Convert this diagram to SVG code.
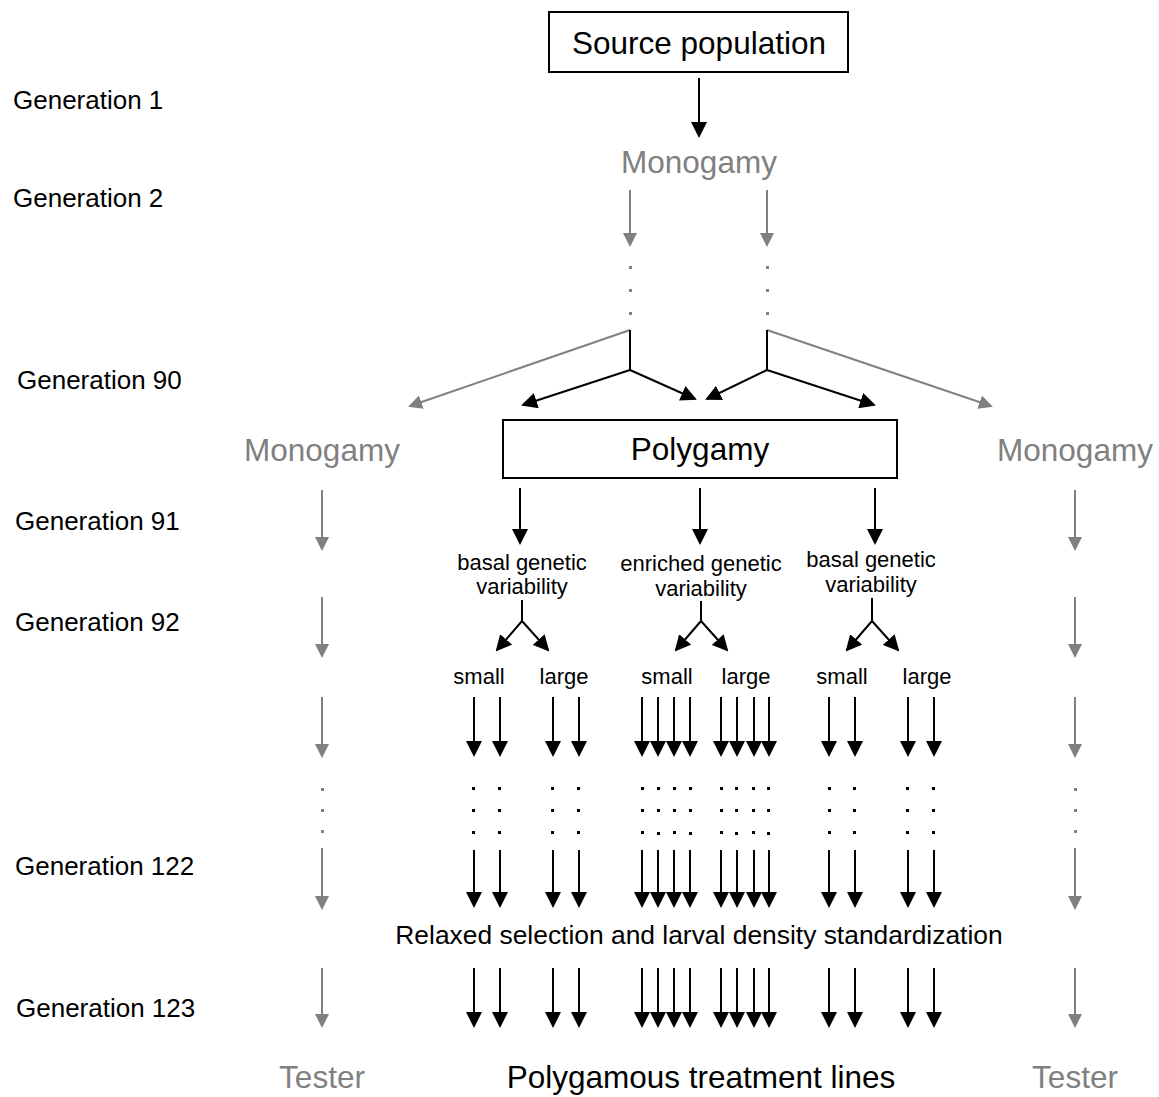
<svg xmlns="http://www.w3.org/2000/svg" width="1159" height="1097" viewBox="0 0 1159 1097">
<style>
text{font-family:"Liberation Sans",Arial,sans-serif;}
.gen{font-size:26px;fill:#000;}
.big{font-size:31.5px;text-anchor:middle;}
.blk{fill:#000;}
.gry{fill:#808080;}
.sm{font-size:22px;fill:#000;text-anchor:middle;}
.mid{font-size:26.4px;fill:#000;text-anchor:middle;}
.box{fill:#fff;stroke:#000;stroke-width:2;}
.b{stroke:#000;stroke-width:2;fill:none;}
.g{stroke:#808080;stroke-width:2;fill:none;}
.ba{stroke:#000;stroke-width:2;fill:none;marker-end:url(#ab);}
.ga{stroke:#808080;stroke-width:2;fill:none;marker-end:url(#ag);}
</style>
<defs>
<marker id="ab" markerUnits="userSpaceOnUse" markerWidth="16" markerHeight="16" viewBox="0 0 16 16" refX="14" refY="8" orient="auto"><path d="M0,0 L16,8 L0,16 z" fill="#000"/></marker>
<marker id="ag" markerUnits="userSpaceOnUse" markerWidth="14" markerHeight="14" viewBox="0 0 14 14" refX="12" refY="7" orient="auto"><path d="M0,0 L14,7 L0,14 z" fill="#808080"/></marker>
</defs>
<rect width="1159" height="1097" fill="#fff"/>
<g id="generation-labels">
<text class="gen" x="13" y="109">Generation 1</text>
<text class="gen" x="13" y="207">Generation 2</text>
<text class="gen" x="17" y="389">Generation 90</text>
<text class="gen" x="15" y="530">Generation 91</text>
<text class="gen" x="15" y="631">Generation 92</text>
<text class="gen" x="15" y="875">Generation 122</text>
<text class="gen" x="16" y="1017">Generation 123</text>
</g>
<g id="source-population">
<rect class="box" x="549" y="12" width="299" height="60"/>
<text class="big blk" x="699" y="54">Source population</text>
</g>
<g id="monogamy-top"><text class="big gry" x="699" y="173">Monogamy</text></g>
<g id="monogamy-left"><text class="big gry" x="322" y="461">Monogamy</text></g>
<g id="monogamy-right"><text class="big gry" x="1075" y="461">Monogamy</text></g>
<g id="polygamy">
<rect class="box" x="503" y="420" width="394" height="58"/>
<text class="big blk" x="700" y="460">Polygamy</text>
</g>
<g id="basal-left"><text class="sm" x="522" y="570">basal genetic</text><text class="sm" x="522" y="594">variability</text></g>
<g id="enriched"><text class="sm" x="701" y="571">enriched genetic</text><text class="sm" x="701" y="596">variability</text></g>
<g id="basal-right"><text class="sm" x="871" y="567">basal genetic</text><text class="sm" x="871" y="592">variability</text></g>
<g id="size-labels">
<text class="sm" x="479" y="684">small</text><text class="sm" x="564" y="684">large</text>
<text class="sm" x="667" y="684">small</text><text class="sm" x="746" y="684">large</text>
<text class="sm" x="842" y="684">small</text><text class="sm" x="927" y="684">large</text>
</g>
<g id="relaxed"><text class="mid" x="699" y="944">Relaxed selection and larval density standardization</text></g>
<g id="tester-left"><text class="big gry" x="322" y="1088">Tester</text></g>
<g id="tester-right"><text class="big gry" x="1075" y="1088">Tester</text></g>
<g id="treatment-lines"><text class="big blk" x="701" y="1088">Polygamous treatment lines</text></g>
<g id="connectors">
<line class="ba" x1="699" y1="78" x2="699" y2="136"/>
<line class="ga" x1="630" y1="190" x2="630" y2="245"/>
<line class="ga" x1="767" y1="190" x2="767" y2="245"/>
<g fill="#808080">
<rect x="629" y="266" width="3" height="3"/><rect x="629" y="289" width="3" height="3"/><rect x="629" y="312" width="3" height="3"/>
<rect x="766" y="266" width="3" height="3"/><rect x="766" y="289" width="3" height="3"/><rect x="766" y="312" width="3" height="3"/>
</g>
<line class="ga" x1="630" y1="330" x2="410" y2="406"/>
<line class="ga" x1="767" y1="330" x2="991" y2="406"/>
<line class="b" x1="630" y1="330" x2="630" y2="370"/>
<line class="b" x1="767" y1="330" x2="767" y2="370"/>
<line class="ba" x1="630" y1="370" x2="523" y2="405"/>
<line class="ba" x1="630" y1="370" x2="695" y2="399"/>
<line class="ba" x1="767" y1="370" x2="707" y2="399"/>
<line class="ba" x1="767" y1="370" x2="874" y2="405"/>
<line class="ba" x1="520" y1="488" x2="520" y2="543"/>
<line class="ba" x1="700" y1="488" x2="700" y2="543"/>
<line class="ba" x1="875" y1="488" x2="875" y2="543"/>
<path class="b" d="M522,600 V621 M701,601 V621 M872,598 V621"/>
<line class="ba" x1="522" y1="621" x2="497" y2="650"/>
<line class="ba" x1="522" y1="621" x2="548" y2="650"/>
<line class="ba" x1="701" y1="621" x2="676" y2="650"/>
<line class="ba" x1="701" y1="621" x2="727" y2="650"/>
<line class="ba" x1="872" y1="621" x2="847" y2="650"/>
<line class="ba" x1="872" y1="621" x2="898" y2="650"/>
<path class="ba" d="M474,697 V755"/><path class="ba" d="M500,697 V755"/><path class="ba" d="M553,697 V755"/><path class="ba" d="M579,697 V755"/>
<path class="ba" d="M642,697 V755"/><path class="ba" d="M658,697 V755"/><path class="ba" d="M674,697 V755"/><path class="ba" d="M690,697 V755"/>
<path class="ba" d="M721,697 V755"/><path class="ba" d="M737,697 V755"/><path class="ba" d="M754,697 V755"/><path class="ba" d="M769,697 V755"/>
<path class="ba" d="M829,697 V755"/><path class="ba" d="M855,697 V755"/><path class="ba" d="M908,697 V755"/><path class="ba" d="M934,697 V755"/>
<path class="ba" d="M474,850 V906"/><path class="ba" d="M500,850 V906"/><path class="ba" d="M553,850 V906"/><path class="ba" d="M579,850 V906"/>
<path class="ba" d="M642,850 V906"/><path class="ba" d="M658,850 V906"/><path class="ba" d="M674,850 V906"/><path class="ba" d="M690,850 V906"/>
<path class="ba" d="M721,850 V906"/><path class="ba" d="M737,850 V906"/><path class="ba" d="M754,850 V906"/><path class="ba" d="M769,850 V906"/>
<path class="ba" d="M829,850 V906"/><path class="ba" d="M855,850 V906"/><path class="ba" d="M908,850 V906"/><path class="ba" d="M934,850 V906"/>
<path class="ba" d="M474,968 V1026"/><path class="ba" d="M500,968 V1026"/><path class="ba" d="M553,968 V1026"/><path class="ba" d="M579,968 V1026"/>
<path class="ba" d="M642,968 V1026"/><path class="ba" d="M658,968 V1026"/><path class="ba" d="M674,968 V1026"/><path class="ba" d="M690,968 V1026"/>
<path class="ba" d="M721,968 V1026"/><path class="ba" d="M737,968 V1026"/><path class="ba" d="M754,968 V1026"/><path class="ba" d="M769,968 V1026"/>
<path class="ba" d="M829,968 V1026"/><path class="ba" d="M855,968 V1026"/><path class="ba" d="M908,968 V1026"/><path class="ba" d="M934,968 V1026"/>
<g fill="#000">
<rect x="472" y="787" width="3" height="3"/><rect x="472" y="809" width="3" height="3"/><rect x="472" y="831" width="3" height="3"/>
<rect x="498" y="787" width="3" height="3"/><rect x="498" y="809" width="3" height="3"/><rect x="498" y="831" width="3" height="3"/>
<rect x="551" y="787" width="3" height="3"/><rect x="551" y="809" width="3" height="3"/><rect x="551" y="831" width="3" height="3"/>
<rect x="577" y="787" width="3" height="3"/><rect x="577" y="809" width="3" height="3"/><rect x="577" y="831" width="3" height="3"/>
<rect x="641" y="787" width="3" height="3"/><rect x="641" y="809" width="3" height="3"/><rect x="641" y="831" width="3" height="3"/>
<rect x="657" y="787" width="3" height="3"/><rect x="657" y="809" width="3" height="3"/><rect x="657" y="832" width="3" height="3"/>
<rect x="673" y="787" width="3" height="3"/><rect x="673" y="809" width="3" height="3"/><rect x="673" y="831" width="3" height="3"/>
<rect x="689" y="787" width="3" height="3"/><rect x="689" y="809" width="3" height="3"/><rect x="689" y="832" width="3" height="3"/>
<rect x="720" y="787" width="3" height="3"/><rect x="720" y="809" width="3" height="3"/><rect x="720" y="831" width="3" height="3"/>
<rect x="735" y="787" width="3" height="3"/><rect x="735" y="809" width="3" height="3"/><rect x="735" y="832" width="3" height="3"/>
<rect x="752" y="787" width="3" height="3"/><rect x="752" y="809" width="3" height="3"/><rect x="752" y="831" width="3" height="3"/>
<rect x="767" y="787" width="3" height="3"/><rect x="767" y="809" width="3" height="3"/><rect x="767" y="832" width="3" height="3"/>
<rect x="828" y="787" width="3" height="3"/><rect x="828" y="809" width="3" height="3"/><rect x="828" y="831" width="3" height="3"/>
<rect x="853" y="787" width="3" height="3"/><rect x="853" y="809" width="3" height="3"/><rect x="853" y="831" width="3" height="3"/>
<rect x="906" y="787" width="3" height="3"/><rect x="906" y="809" width="3" height="3"/><rect x="906" y="831" width="3" height="3"/>
<rect x="932" y="787" width="3" height="3"/><rect x="932" y="809" width="3" height="3"/><rect x="932" y="831" width="3" height="3"/>
</g>
<path class="ga" d="M322,490 V549"/><path class="ga" d="M322,597 V656"/><path class="ga" d="M322,697 V756"/><path class="ga" d="M322,848 V908"/><path class="ga" d="M322,968 V1026"/>
<path class="ga" d="M1075,490 V549"/><path class="ga" d="M1075,597 V656"/><path class="ga" d="M1075,697 V756"/><path class="ga" d="M1075,848 V908"/><path class="ga" d="M1075,968 V1026"/>
<g fill="#808080">
<rect x="321" y="788" width="3" height="3"/><rect x="321" y="809" width="3" height="3"/><rect x="321" y="830" width="3" height="3"/>
<rect x="1074" y="788" width="3" height="3"/><rect x="1074" y="809" width="3" height="3"/><rect x="1074" y="830" width="3" height="3"/>
</g>
</g>
</svg>
